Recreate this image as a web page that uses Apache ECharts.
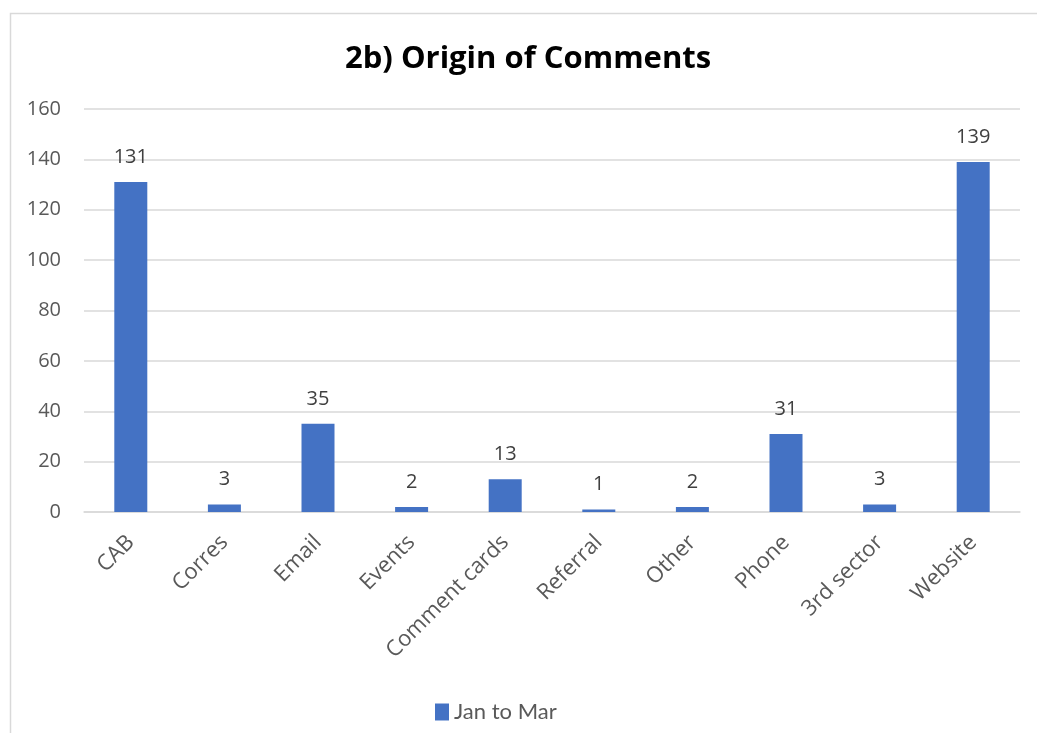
<!DOCTYPE html>
<html>
<head>
<meta charset="utf-8">
<script src="https://cdn.jsdelivr.net/npm/echarts@6/dist/echarts.min.js"></script>
<style>
  html, body { margin: 0; padding: 0; background: #fff; }
  #chart { width: 1037px; height: 733px; }
</style>
</head>
<body>
<div id="chart"></div>
<script>
// Origin of comments, Jan to Mar
const categories = ['CAB', 'Corres', 'Email', 'Events', 'Comment cards', 'Referral', 'Other', 'Phone', '3rd sector', 'Website'];
const seriesName = 'Jan to Mar';
const values = [131, 3, 35, 2, 13, 1, 2, 31, 3, 139];
const yTicks = { min: 0, max: 160, interval: 20 };

const FONT = '"Open Sans", Lato, sans-serif';
const LEGEND_FONT = 'Lato, "Open Sans", sans-serif';
const TEXT = '#595959';

const chart = echarts.init(document.getElementById('chart'));
chart.setOption({
  backgroundColor: '#fff',
  animation: false,
  graphic: [{
    type: 'rect',
    left: 8, top: 11,
    shape: { width: 1060, height: 760 },
    style: { fill: 'none', stroke: '#d9d9d9', lineWidth: 1.5 },
    silent: true
  }],
  title: {
    text: '2b) Origin of Comments',
    left: 340,
    top: 39,
    textStyle: { fontFamily: FONT, fontSize: 31, fontWeight: 'bold', color: '#000' }
  },
  legend: {
    bottom: 5,
    left: 430,
    icon: 'rect',
    itemWidth: 14, itemHeight: 17, itemGap: 5,
    textStyle: { fontFamily: LEGEND_FONT, fontSize: 22, color: TEXT },
    data: [seriesName]
  },
  grid: { left: 84, right: 17, top: 109, height: 403 },
  xAxis: {
    type: 'category',
    data: categories,
    axisLine: { lineStyle: { color: '#d9d9d9', width: 1.5 } },
    axisTick: { show: false },
    axisLabel: { interval: 0, rotate: 45, margin: 27, fontFamily: FONT, fontSize: 22, color: TEXT }
  },
  yAxis: {
    type: 'value',
    min: yTicks.min, max: yTicks.max, interval: yTicks.interval,
    axisLine: { show: false },
    axisTick: { show: false },
    splitLine: { lineStyle: { color: '#d9d9d9', width: 1.5 } },
    axisLabel: { margin: 23, fontFamily: FONT, fontSize: 20, color: TEXT }
  },
  series: [{
    name: seriesName,
    type: 'bar',
    data: values,
    barWidth: 33,
    itemStyle: { color: '#4472C4' },
    label: { show: true, position: 'top', distance: 15, fontFamily: FONT, fontSize: 20, color: '#404040' }
  }]
});
</script>
</body>
</html>
